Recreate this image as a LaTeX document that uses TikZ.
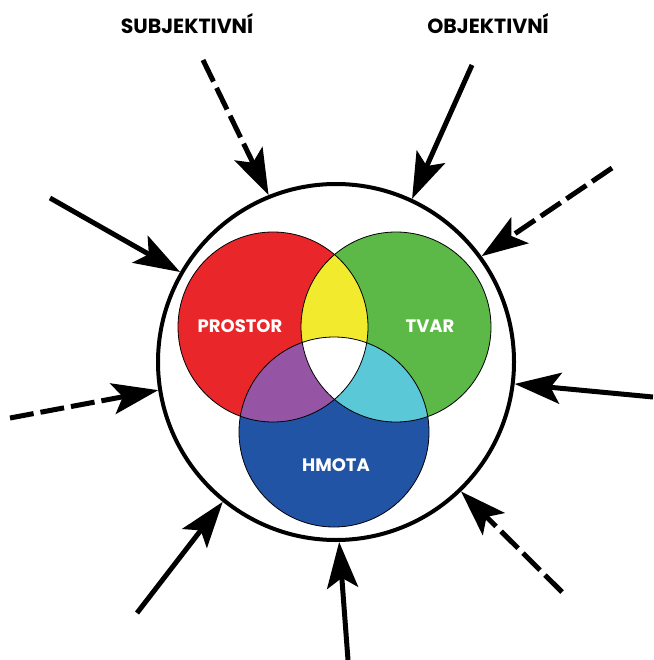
\documentclass[tikz,border=0pt]{standalone}
\usepackage{fontspec}
\setmainfont{Poppins}
\usetikzlibrary{arrows.meta}
\definecolor{prostorred}{RGB}{233,39,42}
\definecolor{tvargreen}{RGB}{92,185,71}
\definecolor{hmotablue}{RGB}{34,84,166}
\definecolor{mixyellow}{RGB}{242,234,44}
\definecolor{mixpurple}{RGB}{150,84,164}
\definecolor{mixcyan}{RGB}{90,200,215}
\tikzset{
    inarrow/.style={line width=5pt,-{Stealth[length=46pt,width=31pt,inset=10pt]}},
    inarrowdash/.style={inarrow,dash pattern=on 24pt off 7pt},
    caption/.style={font=\bfseries\fontsize{20.5}{22}\selectfont},
    setlabel/.style={text=white,font=\bfseries\fontsize{18}{20}\selectfont},
}
\begin{document}
\begin{tikzpicture}[x=1pt,y=-1pt]
        \useasboundingbox (0,0) rectangle (653,660);
        %% Sets
        \coordinate (P) at (273,327);
        \coordinate (T) at (396,327);
        \coordinate (H) at (334,432);
        \fill[prostorred] (P) circle [radius=95pt];
        \fill[tvargreen]  (T) circle [radius=95pt];
        \fill[hmotablue]  (H) circle [radius=95pt];
        \begin{scope}
            \clip (P) circle [radius=95pt];
            \fill[mixyellow] (T) circle [radius=95pt];
            \fill[mixpurple] (H) circle [radius=95pt];
        \end{scope}
        \begin{scope}
            \clip (T) circle [radius=95pt];
            \fill[mixcyan] (H) circle [radius=95pt];
        \end{scope}
        \begin{scope}
            \clip (P) circle [radius=95pt];
            \clip (T) circle [radius=95pt];
            \fill[white] (H) circle [radius=95pt];
        \end{scope}
        \draw[line width=0.8pt] (P) circle [radius=95pt];
        \draw[line width=0.8pt] (T) circle [radius=95pt];
        \draw[line width=0.8pt] (H) circle [radius=95pt];
        %% Rim
        \node[draw,circle,line width=4pt,minimum size=356pt] (rim) at (336,362) {};
        %% Labels
        \node[setlabel] (prostor) at (240,326) {PROSTOR};
        \node[setlabel] (tvar)    at (430,326) {TVAR};
        \node[setlabel] (hmota)   at (336,465) {HMOTA};
        \node[caption]  (subj)    at (187,24)  {SUBJEKTIVNÍ};
        \node[caption]  (obj)     at (488,24)  {OBJEKTIVNÍ};
        %% Arrows
        \coordinate (in1) at (203,60);
        \coordinate (in2) at (472,65);
        \coordinate (in3) at (612,168);
        \coordinate (in4) at (50,198);
        \coordinate (in5) at (10,418);
        \coordinate (in6) at (653,397);
        \coordinate (in7) at (137,613);
        \coordinate (in8) at (562,592);
        \coordinate (in9) at (348,660);
        \draw[inarrowdash] (in1) -- (rim.112.8);
        \draw[inarrow]     (in2) -- (rim.65.8);
        \draw[inarrowdash] (in3) -- (rim.36.4);
        \draw[inarrow]     (in4) -- (rim.150.3);
        \draw[inarrowdash] (in5) -- (rim.189.8);
        \draw[inarrow]     (in6) -- (rim.353.3);
        \draw[inarrow]     (in7) -- (rim.231.4);
        \draw[inarrowdash] (in8) -- (rim.314.5);
        \draw[inarrow]     (in9) -- (rim.271.9);
    \end{tikzpicture}
\end{document}
